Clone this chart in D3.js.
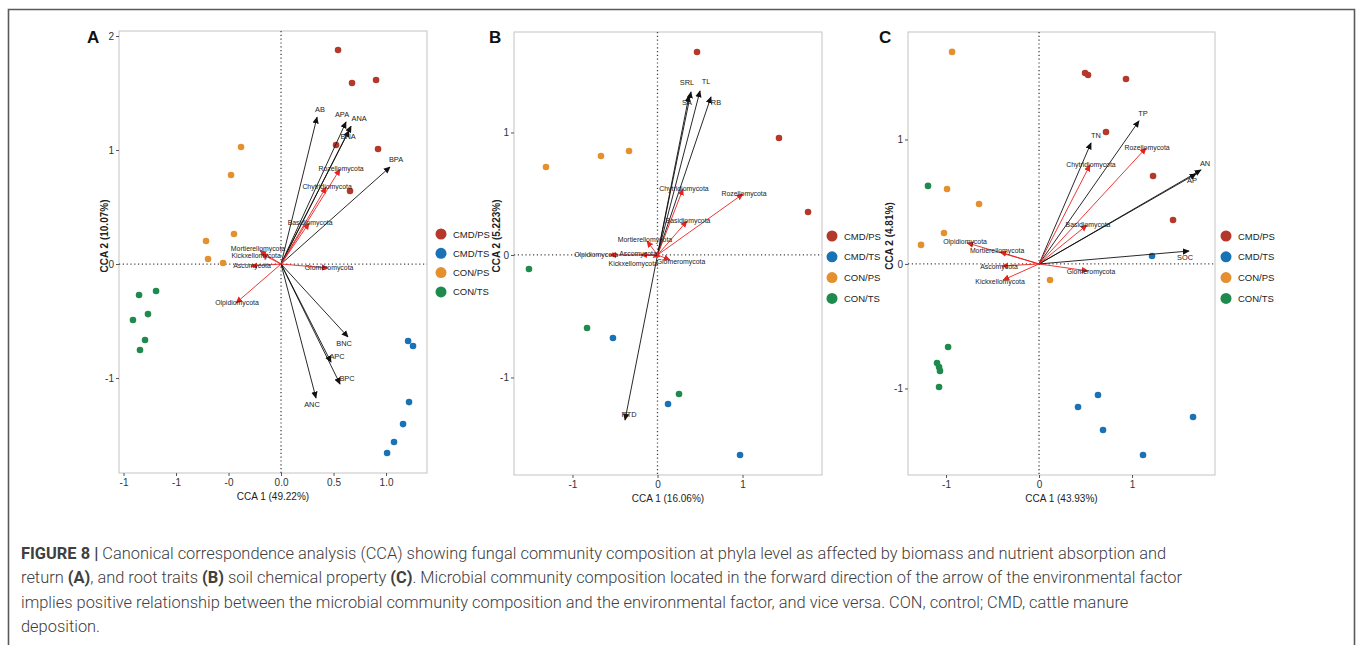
<!DOCTYPE html>
<html>
<head>
<meta charset="utf-8">
<script src="https://cdn.jsdelivr.net/npm/d3@7"></script>
<style>
  html, body { margin: 0; padding: 0; background: #fff; }
  svg { display: block; }
</style>
</head>
<body>
<svg id="fig" width="1357" height="645"></svg>
<script>
// Treatment groups and their colours
const groups = ["CMD/PS", "CMD/TS", "CON/PS", "CON/TS"];
const groupColors = ["#b4392b", "#1a72b6", "#e5902f", "#1f8a4d"];

// Panel A: sample scores [group index, CCA1, CCA2]
const sitesA = [
  [0, 0.543, 1.877], [0, 0.676, 1.588], [0, 0.905, 1.614], [0, 0.524, 1.044], [0, 0.924, 1.009], [0, 0.657, 0.640],
  [1, 1.210, -0.675], [1, 1.257, -0.719], [1, 1.219, -1.211], [1, 1.162, -1.404], [1, 1.076, -1.561], [1, 1.010, -1.658],
  [2, -0.381, 1.026], [2, -0.476, 0.781], [2, -0.448, 0.263], [2, -0.714, 0.202], [2, -0.695, 0.044], [2, -0.552, 0.009],
  [3, -1.352, -0.272], [3, -1.190, -0.237], [3, -1.410, -0.491], [3, -1.267, -0.439], [3, -1.295, -0.667], [3, -1.343, -0.754]
];
// Panel A: environmental vectors (biomass, nutrient absorption and return)
const envA = [
  ["AB", 0.343, 1.289], ["APA", 0.619, 1.246], ["ANA", 0.667, 1.210], ["BNA", 0.648, 1.170], ["BPA", 1.038, 0.851],
  ["BNC", 0.638, -0.640], ["APC", 0.476, -0.860], ["BPC", 0.562, -1.053], ["ANC", 0.333, -1.175]
];
// Panel A: phylum scores
const phylaA = [
  ["Rozellomycota", 0.562, 0.833], ["Chytridiomycota", 0.429, 0.675], ["Basidiomycota", 0.267, 0.360],
  ["Mortierellomycota", -0.200, 0.115], ["Kickxellomycota", -0.190, 0.090], ["Ascomycota", -0.286, -0.018],
  ["Glomeromycota", 0.448, -0.035], ["Olpidiomycota", -0.429, -0.342]
];

// Panel B: root traits
const sitesB = [
  [0, 0.465, 1.657], [0, 1.429, 0.955], [0, 1.771, 0.351],
  [1, -0.524, -0.678], [1, 0.124, -1.216], [1, 0.971, -1.633],
  [2, -1.312, 0.718], [2, -0.665, 0.808], [2, -0.335, 0.849],
  [3, -1.512, -0.114], [3, -0.829, -0.596], [3, 0.253, -1.135]
];
const envB = [
  ["SRL", 0.394, 1.331], ["SA", 0.370, 1.300], ["TL", 0.500, 1.339], ["RB", 0.629, 1.290], ["RTD", -0.382, -1.347]
];
const phylaB = [
  ["Chytridiomycota", 0.300, 0.539], ["Rozellomycota", 1.006, 0.498], ["Basidiomycota", 0.347, 0.277],
  ["Mortierellomycota", -0.124, 0.114], ["Olpidiomycota", -0.559, 0.000], ["Ascomycota", -0.194, 0.000],
  ["Kickxellomycota", -0.050, -0.020], ["Glomeromycota", 0.147, -0.040]
];

// Panel C: soil chemical properties
const sitesC = [
  [0, 0.495, 1.534], [0, 0.527, 1.518], [0, 0.935, 1.486], [0, 0.720, 1.060], [0, 1.226, 0.707], [0, 1.441, 0.353],
  [1, 1.215, 0.064], [1, 0.634, -1.052], [1, 0.419, -1.149], [1, 0.688, -1.333], [1, 1.656, -1.229], [1, 1.118, -1.534],
  [2, -0.935, 1.703], [2, -0.989, 0.602], [2, -0.645, 0.482], [2, -1.022, 0.249], [2, -1.269, 0.153], [2, 0.118, -0.129],
  [3, -1.194, 0.627], [3, -0.978, -0.667], [3, -1.097, -0.795], [3, -1.075, -0.827], [3, -1.065, -0.859], [3, -1.075, -0.988]
];
const envC = [
  ["TN", 0.559, 0.972], ["TP", 1.075, 1.149], ["AN", 1.742, 0.755], ["AP", 1.688, 0.723], ["SOC", 1.613, 0.104]
];
const phylaC = [
  ["Rozellomycota", 1.151, 0.932], ["Chytridiomycota", 0.548, 0.795], ["Basidiomycota", 0.516, 0.313],
  ["Olpidiomycota", -0.774, 0.169], ["Mortierellomycota", -0.419, 0.096], ["Ascomycota", -0.398, -0.016],
  ["Kickxellomycota", -0.387, -0.129], ["Glomeromycota", 0.527, -0.056]
];

// Tick values and their printed labels
const xTicksA = [-1.5, -1, -0.5, 0, 0.5, 1];
const xTickLabelsA = ["-1", "-1", "-0", "0.0", "0.5", "1.0"];
const yTicksA = [-1, 0, 1, 2];
const yTickLabelsA = ["-1", "0", "1", "2"];
const xTicksBC = [-1, 0, 1];
const xTickLabelsBC = ["-1", "0", "1"];
const yTicksBC = [-1, 0, 1];
const yTickLabelsBC = ["-1", "0", "1"];

// Text placement relative to each arrow tip, in pixels (label centre)
const labelNudgeA = {
  AB: [3, -7], APA: [-4, -7], ANA: [8, -7], BNA: [-1, 6], BPA: [6, -7],
  BNC: [-4, 7], APC: [6, -5], BPC: [7, -5], ANC: [-4, 7],
  Mortierellomycota: [-2, -2], Kickxellomycota: [-5, 2]
};
const labelNudgeB = {
  SRL: [-4, -9], TL: [6, -9], SA: [-2, 7], RB: [5, 6], RTD: [4, -5],
  Mortierellomycota: [-2, -1], Olpidiomycota: [-14, 0], Ascomycota: [-3, -1],
  Kickxellomycota: [-20, 6], Glomeromycota: [11, 2]
};
const labelNudgeC = {
  TN: [5, -7], TP: [4, -7], AN: [4, -6], AP: [-4, 7], SOC: [-4, 7],
  Olpidiomycota: [-2, -1], Mortierellomycota: [-3, -1], Ascomycota: [-3, 1],
  Kickxellomycota: [-3, 2], Glomeromycota: [3, 1]
};

const svg = d3.select("#fig");
const FONT = "'Liberation Sans', Arial, sans-serif";

// Outer figure frame
svg.append("path")
  .attr("d", "M8.5,645 V9.5 H1354.5 V645")
  .attr("fill", "none").attr("stroke", "#5a5a5a").attr("stroke-width", 1.6);

const defs = svg.append("defs");
[["head-black", "#111"], ["head-red", "#e8231f"]].forEach(([id, c]) => {
  defs.append("marker")
    .attr("id", id).attr("viewBox", "0 0 10 10").attr("refX", 9).attr("refY", 5)
    .attr("markerWidth", 7).attr("markerHeight", 7).attr("markerUnits", "userSpaceOnUse")
    .attr("orient", "auto")
    .append("path").attr("d", "M0,0.5 L10,5 L0,9.5 Z").attr("fill", c);
});

function drawPanel(cfg) {
  const g = svg.append("g");
  const x = d3.scaleLinear().domain(cfg.xDomain).range([cfg.left, cfg.right]);
  const y = d3.scaleLinear().domain(cfg.yDomain).range([cfg.bottom, cfg.top]);
  const nudge = name => cfg.nudge[name];

  // panel border
  g.append("rect")
    .attr("x", cfg.left).attr("y", cfg.top)
    .attr("width", cfg.right - cfg.left).attr("height", cfg.bottom - cfg.top)
    .attr("fill", "none").attr("stroke", "#c4c4c4").attr("stroke-width", 1);

  // axes
  const xa = g.append("g").attr("transform", `translate(0,${cfg.bottom})`)
    .call(d3.axisBottom(x).tickValues(cfg.xTicks).tickFormat((d, i) => cfg.xTickLabels[i]).tickSize(3).tickPadding(3));
  const ya = g.append("g").attr("transform", `translate(${cfg.left},0)`)
    .call(d3.axisLeft(y).tickValues(cfg.yTicks).tickFormat((d, i) => cfg.yTickLabels[i]).tickSize(3).tickPadding(2));
  [xa, ya].forEach(a => {
    a.select(".domain").remove();
    a.selectAll("line").attr("stroke", "#555");
    a.selectAll("text").attr("font-family", FONT).attr("font-size", 10).attr("fill", "#333");
  });

  // zero reference lines
  g.append("line")
    .attr("x1", x(0)).attr("x2", x(0)).attr("y1", cfg.top).attr("y2", cfg.bottom)
    .attr("stroke", "#444").attr("stroke-width", 1.3).attr("stroke-dasharray", "1.2,2.6");
  g.append("line")
    .attr("x1", cfg.left).attr("x2", cfg.right).attr("y1", y(0)).attr("y2", y(0))
    .attr("stroke", "#444").attr("stroke-width", 1.3).attr("stroke-dasharray", "1.2,2.6");

  // sample points
  g.selectAll("circle.site").data(cfg.sites).join("circle")
    .attr("class", "site")
    .attr("cx", d => x(d[1])).attr("cy", d => y(d[2])).attr("r", 3.3)
    .attr("fill", d => groupColors[d[0]]);

  // environmental vectors
  g.selectAll("line.env").data(cfg.env).join("line")
    .attr("class", "env")
    .attr("x1", x(0)).attr("y1", y(0))
    .attr("x2", d => x(d[1])).attr("y2", d => y(d[2]))
    .attr("stroke", "#111").attr("stroke-width", 0.9)
    .attr("marker-end", "url(#head-black)");

  // phylum vectors
  g.selectAll("line.phy").data(cfg.phyla).join("line")
    .attr("class", "phy")
    .attr("x1", x(0)).attr("y1", y(0))
    .attr("x2", d => x(d[1])).attr("y2", d => y(d[2]))
    .attr("stroke", "#e8231f").attr("stroke-width", 0.9)
    .attr("marker-end", "url(#head-red)");

  // labels at the arrow tips
  const labelled = cfg.env.map(d => [d, true]).concat(cfg.phyla.map(d => [d, false]));
  g.selectAll("text.vlab").data(labelled).join("text")
    .attr("class", "vlab")
    .attr("x", ([d, isEnv]) => {
      const n = nudge(d[0]);
      if (n) return x(d[1]) + n[0];
      if (!isEnv) return x(d[1]) + 1;
      const dx = x(d[1]) - x(0), dy = y(d[2]) - y(0);
      return x(d[1]) + dx / Math.hypot(dx, dy) * 8;
    })
    .attr("y", ([d, isEnv]) => {
      const n = nudge(d[0]);
      if (n) return y(d[2]) + n[1] + 2.4;
      if (!isEnv) return y(d[2]) + 2.4;
      const dx = x(d[1]) - x(0), dy = y(d[2]) - y(0);
      return y(d[2]) + dy / Math.hypot(dx, dy) * 8 + 2.4;
    })
    .attr("text-anchor", "middle")
    .attr("font-family", FONT).attr("font-size", ([d, isEnv]) => isEnv ? 7.4 : 6.9).attr("fill", "#222")
    .text(([d]) => d[0]);

  // axis titles
  g.append("text")
    .attr("x", (cfg.left + cfg.right) / 2).attr("y", cfg.bottom + 27)
    .attr("text-anchor", "middle")
    .attr("font-family", FONT).attr("font-size", 10).attr("fill", "#222")
    .text(cfg.xTitle);
  g.append("text")
    .attr("transform", `translate(${cfg.yTitleX},${cfg.yTitleY}) rotate(-90)`)
    .attr("text-anchor", "middle")
    .attr("font-family", FONT).attr("font-size", 10).attr("font-weight", "bold").attr("fill", "#222")
    .text(cfg.yTitle);

  // panel letter
  g.append("text")
    .attr("x", cfg.letterX).attr("y", 43)
    .attr("font-family", FONT).attr("font-size", 17).attr("font-weight", "bold").attr("fill", "#111")
    .text(cfg.letter);

  // legend
  const lg = g.append("g").attr("transform", `translate(${cfg.legendX},${cfg.legendY})`);
  groups.forEach((name, i) => {
    lg.append("circle").attr("cx", 0).attr("cy", i * cfg.legendGap).attr("r", 5.5).attr("fill", groupColors[i]);
    lg.append("text").attr("x", 12).attr("y", i * cfg.legendGap + 3.5)
      .attr("font-family", FONT).attr("font-size", 9.5).attr("fill", "#222")
      .text(name);
  });
}

drawPanel({
  letter: "A", letterX: 87,
  left: 119, right: 427, top: 31, bottom: 473,
  xDomain: [-1.543, 1.390], yDomain: [-1.833, 2.044],
  xTicks: xTicksA, xTickLabels: xTickLabelsA, yTicks: yTicksA, yTickLabels: yTickLabelsA,
  sites: sitesA, env: envA, phyla: phylaA, nudge: labelNudgeA,
  xTitle: "CCA 1 (49.22%)", yTitle: "CCA 2 (10.07%)", yTitleX: 108, yTitleY: 236,
  legendX: 441, legendY: 234, legendGap: 19.3
});
drawPanel({
  letter: "B", letterX: 489,
  left: 514, right: 822, top: 32, bottom: 475,
  xDomain: [-1.688, 1.935], yDomain: [-1.796, 1.820],
  xTicks: xTicksBC, xTickLabels: xTickLabelsBC, yTicks: yTicksBC, yTickLabels: yTickLabelsBC,
  sites: sitesB, env: envB, phyla: phylaB, nudge: labelNudgeB,
  xTitle: "CCA 1 (16.06%)", yTitle: "CCA 2 (5.223%)", yTitleX: 500, yTitleY: 236,
  legendX: 832, legendY: 236, legendGap: 20.8
});
drawPanel({
  letter: "C", letterX: 879,
  left: 908, right: 1215, top: 32, bottom: 475,
  xDomain: [-1.409, 1.892], yDomain: [-1.695, 1.863],
  xTicks: xTicksBC, xTickLabels: xTickLabelsBC, yTicks: yTicksBC, yTickLabels: yTickLabelsBC,
  sites: sitesC, env: envC, phyla: phylaC, nudge: labelNudgeC,
  xTitle: "CCA 1 (43.93%)", yTitle: "CCA 2 (4.81%)", yTitleX: 893, yTitleY: 236,
  legendX: 1226, legendY: 236, legendGap: 20.8
});

// Caption
const captionLines = [
  [["FIGURE 8 |", true], [" Canonical correspondence analysis (CCA) showing fungal community composition at phyla level as affected by biomass and nutrient absorption and", false]],
  [["return ", false], ["(A)", true], [", and root traits ", false], ["(B)", true], [" soil chemical property ", false], ["(C)", true], [". Microbial community composition located in the forward direction of the arrow of the environmental factor", false]],
  [["implies positive relationship between the microbial community composition and the environmental factor, and vice versa. CON, control; CMD, cattle manure", false]],
  [["deposition.", false]]
];
const capG = svg.append("g");
const capNodes = captionLines.map(parts => {
  const t = capG.append("text")
    .attr("x", 0).attr("y", 0)
    .attr("font-family", "Roboto, 'Liberation Sans', sans-serif").attr("font-size", 16).attr("fill", "#404040")
    .style("white-space", "pre");
  parts.forEach(([s, b]) => t.append("tspan").attr("font-weight", b ? "bold" : 300).text(s));
  return t;
});
// horizontal condensing so the first line spans the caption width
const w0 = capNodes[0].node().getComputedTextLength();
const sx = 1146 / w0;
capNodes.forEach((t, i) => t.attr("transform", `translate(21,${559 + i * 24.4}) scale(${sx},1)`));
</script>
</body>
</html>
